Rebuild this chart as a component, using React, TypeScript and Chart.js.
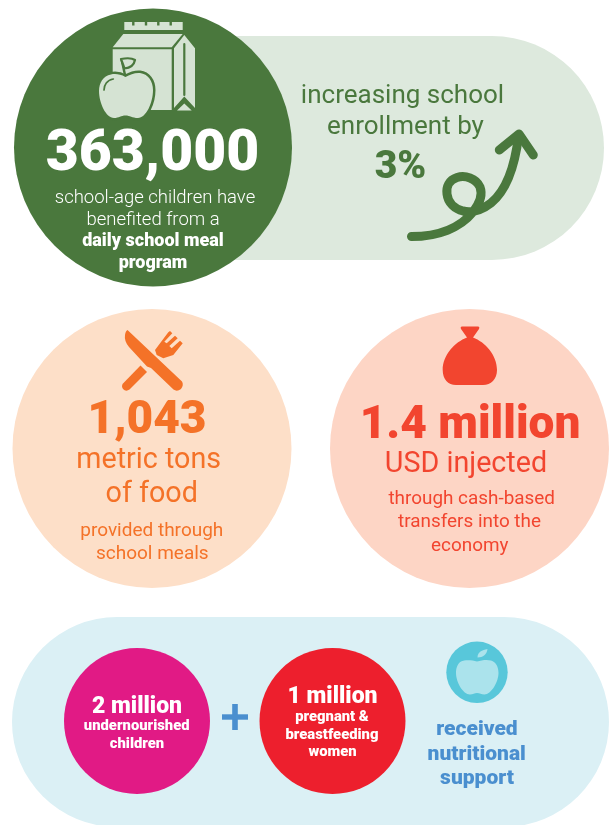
import React, { useEffect, useRef } from "react";
import { Chart, registerables } from "chart.js";

Chart.register(...registerables);

// ---- text
const mealLines = ["363,000", "school-age children have", "benefited from a", "daily school meal", "program"];
const enrollmentLines = ["increasing school", "enrollment by", "3%"];
const foodLines = ["1,043", "metric tons", "of food", "provided through", "school meals"];
const cashLines = ["1.4 million", "USD injected", "through cash-based", "transfers into the", "economy"];
const childrenLines = ["2 million", "undernourished", "children"];
const womenLines = ["1 million", "pregnant &", "breastfeeding", "women"];
const supportLines = ["received", "nutritional", "support"];

// ---- shapes
const circleNames = ["meal", "food", "cash", "children", "women", "apple"];
const circleX = [153, 152, 469.5, 137, 332.5, 477];
const circleY = [147.5, 448.5, 448.5, 721, 721, 672.3];
const circleR = [139, 139.5, 139.5, 73, 73, 30.7];
const circleFill = ["#4a783d", "#fddfc8", "#fdd5c5", "#e11a85", "#ed1f2d", "#58c7da"];

const pillX = [[150, 492], [117, 504]];
const pillY = [148, 722];
const pillWidth = [224, 210];
const pillFill = ["#dde9dd", "#dbf0f5"];

const plusX = [222, 248];
const plusY = [704, 730];
const plusCenter = [235, 717];

const place = (
  ctx: CanvasRenderingContext2D,
  lines: string[],
  color: string,
  layout: { x: number; y: number; font: string; ls?: number }[],
) => {
  ctx.fillStyle = color;
  ctx.textAlign = "center";
  ctx.textBaseline = "alphabetic";
  lines.forEach((t, i) => {
    const l = layout[i];
    ctx.font = `${l.font} Roboto, sans-serif`;
    (ctx as any).letterSpacing = `${l.ls ?? 0}px`;
    ctx.fillText(t, l.x, l.y);
  });
  (ctx as any).letterSpacing = "0px";
};

const fillPath = (ctx: CanvasRenderingContext2D, d: string, color: string) => {
  ctx.fillStyle = color;
  ctx.fill(new Path2D(d));
};
const strokePath = (ctx: CanvasRenderingContext2D, d: string, color: string, w: number) => {
  ctx.strokeStyle = color;
  ctx.lineWidth = w;
  ctx.lineCap = "round";
  ctx.lineJoin = "round";
  ctx.stroke(new Path2D(d));
};

const drawIcons = (ctx: CanvasRenderingContext2D) => {
  const light = "#d5e3d3";
  const dark = "#4a783d";
  // carton
  fillPath(ctx, "M124.3 22H182.7V30H124.3Z", light);
  [133.3, 146, 158.3, 170.7].forEach((x) => fillPath(ctx, `M${x - 1.2} 21H${x + 1.2}V25.5H${x - 1.2}Z`, dark));
  fillPath(ctx, "M112.7 47.3L123.3 34H182.7L171.7 47.3Z", light);
  fillPath(ctx, "M112.7 49.3H171.7V110H112.7Z", light);
  fillPath(ctx, "M174 48.3L184.3 35L195 48.3V108L184.3 96.5L174 108Z", light);
  fillPath(ctx, "M177 110.5L184.3 103.5L191.7 110.5Z", light);
  strokePath(ctx, "M184.3 44V95", dark, 2.2);
  // apple
  const apple =
    "M125.5 77C120 74 115 73.5 111 74.5C103 76 99 83 99 91C99 103 106 118 114 118C119 118 121 115.5 125.5 115.5C130 115.5 132 118 138 118C146 118 153 103 153 90C153 81 148 74 140 73C135 72.5 130 74.5 125.5 77Z";
  strokePath(ctx, apple, dark, 5);
  fillPath(ctx, apple, light);
  strokePath(ctx, "M104 90C104 85 107 80 113.3 79", dark, 1.7);
  strokePath(ctx, "M125 75L121.7 60", dark, 2.4);
  const leaf = "M121 59C126 58 132 58 135 60C134 65 130 68 124.5 68.5Z";
  fillPath(ctx, leaf, light);
  strokePath(ctx, leaf, dark, 2.2);

  // arrow
  strokePath(
    ctx,
    "M411.5 236.5C438 236.5 460 228 473 212C480 203 483 195 480 187C476 178 465 175 457 177.5C449 180 446 187 447 194C448 203 455 209 463 211C472 213 482 210 491 203C507 190 515 165 518.5 136",
    dark,
    9,
  );
  strokePath(ctx, "M499.3 150L519 134L533.3 155", dark, 9);

  // knife and fork
  const orange = "#f47228";
  fillPath(ctx, "M127.5 330L182 381.5Q184 385 181 389Q177 392 173.5 389.5L151 368L147 366.5L129 347Q124 341 125 335Q125.5 331 127.5 330Z", orange);
  fillPath(ctx, "M140.5 365.5L147 372L129.5 389.5Q126 392 123 389Q121 386 123 383.5Z", orange);
  const fork =
    "M155 350L168.3 332.3L170 331L172.3 333.3L164.3 341.7L166.7 343.3L175 335.7L177.7 338.3L169.3 346L171.7 348.3L180 340.7L182.7 343.3L173.3 355L163.3 358.3L156.7 355Z";
  fillPath(ctx, fork, orange);

  // money bag
  fillPath(
    ctx,
    "M462 326.5L478 326.5Q480 326.5 479 329L473 337.5C485 342 497 355 497 370C497 379 491 385 483 385L456 385C448 385 442.7 379 442.7 370C442.7 355 455 342 467 337.5L461 329Q460 326.5 462 326.5Z",
    "#f2452f",
  );

  // small apple
  const pale = "#abe3ec";
  fillPath(
    ctx,
    "M477 661.5C472 660 465 659.5 461 661.5C457 664 456 669 456 673C456 682 463 694.5 470 694.5C473 694.5 474.5 693 477 693C480 693 481 694.5 484.5 694.5C491 694.5 498.5 682 498.5 673C498.5 667 496 662 491 660.5C487 659.5 482 660 477 661.5Z",
    pale,
  );
  fillPath(ctx, "M477.5 657.5C477.5 652 482 650 487.5 649C487 654 483 657.5 477.5 657.5Z", pale);
};

const drawTexts = (ctx: CanvasRenderingContext2D) => {
  place(ctx, mealLines, "#ffffff", [
    { x: 152.5, y: 170, font: "900 57px" },
    { x: 155, y: 203, font: "300 18.5px" },
    { x: 153, y: 225, font: "300 18.5px" },
    { x: 153, y: 246, font: "900 18px" },
    { x: 153, y: 268, font: "900 18px" },
  ]);
  place(ctx, enrollmentLines, "#4a783d", [
    { x: 402.5, y: 103, font: "400 26px" },
    { x: 405.5, y: 134, font: "400 26px" },
    { x: 400.5, y: 177.7, font: "900 39px" },
  ]);
  place(ctx, foodLines, "#f47228", [
    { x: 147, y: 433, font: "900 46px" },
    { x: 148.7, y: 467.7, font: "400 28.7px" },
    { x: 151.7, y: 501.7, font: "400 28.7px" },
    { x: 151.8, y: 535.7, font: "400 19px" },
    { x: 152.3, y: 559, font: "400 19px" },
  ]);
  place(ctx, cashLines, "#f2452f", [
    { x: 470, y: 437.7, font: "900 46px" },
    { x: 466, y: 471.7, font: "400 28.7px" },
    { x: 471.7, y: 504, font: "400 18.9px" },
    { x: 469.5, y: 527.3, font: "400 18.9px" },
    { x: 469.8, y: 551, font: "400 18.9px" },
  ]);
  place(ctx, childrenLines, "#ffffff", [
    { x: 137, y: 712.7, font: "900 23px" },
    { x: 136.7, y: 730, font: "900 14.8px" },
    { x: 137, y: 747.7, font: "900 14.8px" },
  ]);
  place(ctx, womenLines, "#ffffff", [
    { x: 332.5, y: 702.7, font: "900 23px" },
    { x: 332, y: 721, font: "900 14.8px" },
    { x: 332, y: 739, font: "900 14.8px" },
    { x: 332.5, y: 755.7, font: "900 14.8px" },
  ]);
  place(ctx, supportLines, "#4a8fcf", [
    { x: 477, y: 735, font: "900 21px" },
    { x: 476.7, y: 760, font: "900 21px" },
    { x: 477, y: 784, font: "900 21px" },
  ]);
};

const overlayPlugin = {
  id: "infographicOverlay",
  afterDatasetsDraw(chart: Chart) {
    const ctx = chart.ctx;
    ctx.save();
    drawIcons(ctx);
    drawTexts(ctx);
    ctx.restore();
  },
};

export default function App() {
  const ref = useRef<HTMLCanvasElement>(null);
  useEffect(() => {
    if (!ref.current) return;
    const pillSets = pillX.map((xs, i) => ({
      type: "line" as const,
      label: `pill ${i}`,
      data: xs.map((x) => ({ x, y: pillY[i] })),
      borderColor: pillFill[i],
      borderWidth: pillWidth[i],
      borderCapStyle: "round" as const,
      pointRadius: 0,
      fill: false,
      clip: false as const,
      order: 10,
    }));
    const plusSets = [
      { label: "plus h", data: plusX.map((x) => ({ x, y: plusCenter[1] })), borderWidth: 5.4 },
      { label: "plus v", data: plusY.map((y) => ({ x: plusCenter[0], y })), borderWidth: 5.6 },
    ].map((s) => ({
      type: "line" as const,
      ...s,
      borderColor: "#4a8fcf",
      pointRadius: 0,
      fill: false,
      clip: false as const,
      order: 6,
    }));
    const circleSet = circleNames.map((name, i) => ({
      type: "bubble" as const,
      label: name,
      data: [{ x: circleX[i], y: circleY[i], r: circleR[i] }],
      backgroundColor: circleFill[i],
      borderWidth: 0,
      hoverRadius: 0,
      clip: false as const,
      order: 5,
    }));
    const chart = new Chart(ref.current, {
      data: { datasets: [...circleSet, ...plusSets, ...pillSets] as any },
      options: {
        animation: false,
        responsive: false,
        layout: { padding: 0, autoPadding: false },
        events: [],
        plugins: { legend: { display: false }, tooltip: { enabled: false }, title: { display: false } },
        scales: {
          x: { type: "linear", min: 0, max: 609, display: false },
          y: { type: "linear", min: 0, max: 825, reverse: true, display: false },
        },
      },
      plugins: [overlayPlugin],
    });
    return () => chart.destroy();
  }, []);
  return (
    <div style={{ position: "absolute", left: 0, top: 0, width: 609, height: 825, overflow: "hidden", background: "#fff" }}>
      <canvas ref={ref} width={609} height={825} style={{ display: "block" }} />
    </div>
  );
}
